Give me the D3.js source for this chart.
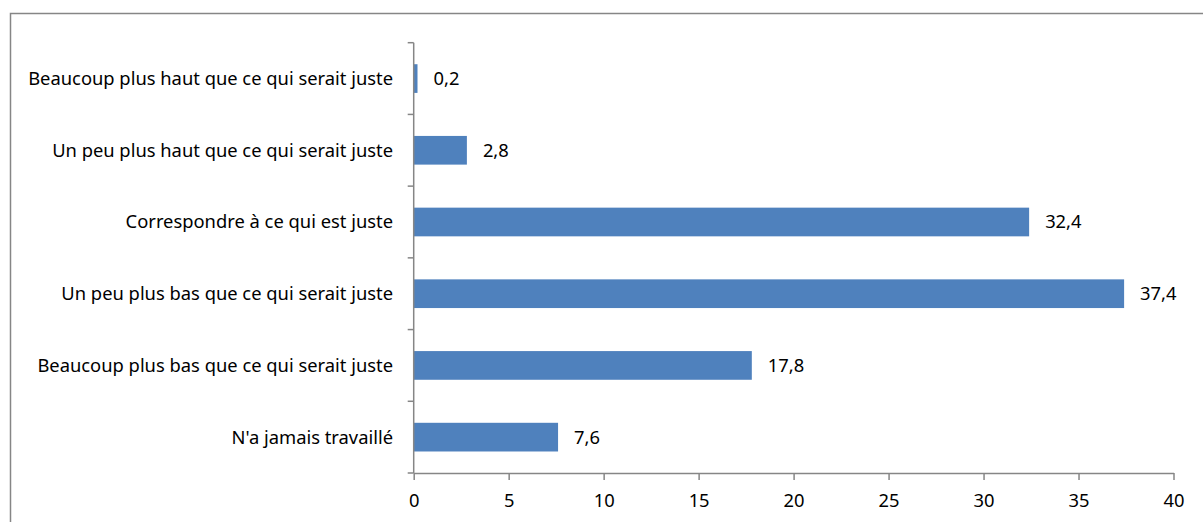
<!DOCTYPE html>
<html><head><meta charset="utf-8">
<script src="https://cdn.jsdelivr.net/npm/d3@7"></script>
<style>body{margin:0;background:#fff}svg{display:block}</style>
</head><body>
<svg id="c" width="1203" height="522"></svg>
<script>
const categories = [
  "Beaucoup plus haut que ce qui serait juste",
  "Un peu plus haut que ce qui serait juste",
  "Correspondre à ce qui est juste",
  "Un peu plus bas que ce qui serait juste",
  "Beaucoup plus bas que ce qui serait juste",
  "N'a jamais travaillé"
];
const values = [0.2, 2.8, 32.4, 37.4, 17.8, 7.6];
const xTicks = [0, 5, 10, 15, 20, 25, 30, 35, 40];

(function () {
const svg = d3.select("#c");
const font = "'Noto Sans', 'Open Sans', sans-serif";
const pL = 413.7, pR = 1173.5, pT = 42.7, pB = 473;

svg.append("rect").attr("x", 10.5).attr("y", 13.5).attr("width", 1200).attr("height", 520)
  .attr("fill", "none").attr("stroke", "#868686").attr("stroke-width", 1.5);

const x = d3.scaleLinear().domain([0, 40]).range([pL, pR]);
const y = d3.scaleBand().domain(categories).range([pT, pB]).paddingInner(0.6).paddingOuter(0.3);

const data = categories.map((c, i) => ({c, v: values[i]}));

svg.selectAll("rect.bar").data(data).enter().append("rect").attr("class", "bar")
  .attr("x", x(0)).attr("y", d => y(d.c)).attr("width", d => x(d.v) - x(0)).attr("height", y.bandwidth())
  .attr("fill", "#4f81bd");

const g = svg.append("g");
g.append("line").attr("x1", pL).attr("x2", pL).attr("y1", pT).attr("y2", pB)
  .attr("stroke", "#868686").attr("stroke-width", 1.5);
d3.range(categories.length + 1).forEach(i => {
  const yy = pT + i * (pB - pT) / categories.length;
  g.append("line").attr("x1", pL - 6).attr("x2", pL).attr("y1", yy).attr("y2", yy)
    .attr("stroke", "#868686").attr("stroke-width", 1.5);
});

const xa = svg.append("g").attr("transform", `translate(0,${pB})`)
  .call(d3.axisBottom(x).tickValues(xTicks).tickSize(7).tickSizeOuter(0).tickFormat(d3.format("d")));
xa.select(".domain").attr("stroke", "#868686").attr("stroke-width", 1.5);
xa.selectAll(".tick line").attr("stroke", "#868686").attr("stroke-width", 1.5);
xa.selectAll(".tick text").attr("font-family", font).attr("font-size", 15).attr("fill", "#000")
  .attr("y", 0).attr("dy", "0").attr("transform", "translate(0,34)");

const labels = svg.selectAll("text.cat").data(data).enter().append("text").attr("class", "cat")
  .attr("x", 393).attr("y", d => y(d.c) + y.bandwidth() / 2).attr("dy", "0.35em")
  .attr("text-anchor", "end").attr("font-family", font).attr("font-size", 16).attr("fill", "#000")
  .text(d => d.c);
const w = labels.nodes()[0].getComputedTextLength();
const fs = 16 * 365 / w;
labels.attr("font-size", fs);
xa.selectAll(".tick text").attr("font-size", fs);

svg.selectAll("text.val").data(data).enter().append("text").attr("class", "val")
  .attr("x", d => x(d.v) + 16).attr("y", d => y(d.c) + y.bandwidth() / 2).attr("dy", "0.35em")
  .attr("font-family", font).attr("font-size", fs).attr("fill", "#000")
  .text(d => d3.format(".1f")(d.v).replace(".", ","));
})();
</script>
</body></html>
